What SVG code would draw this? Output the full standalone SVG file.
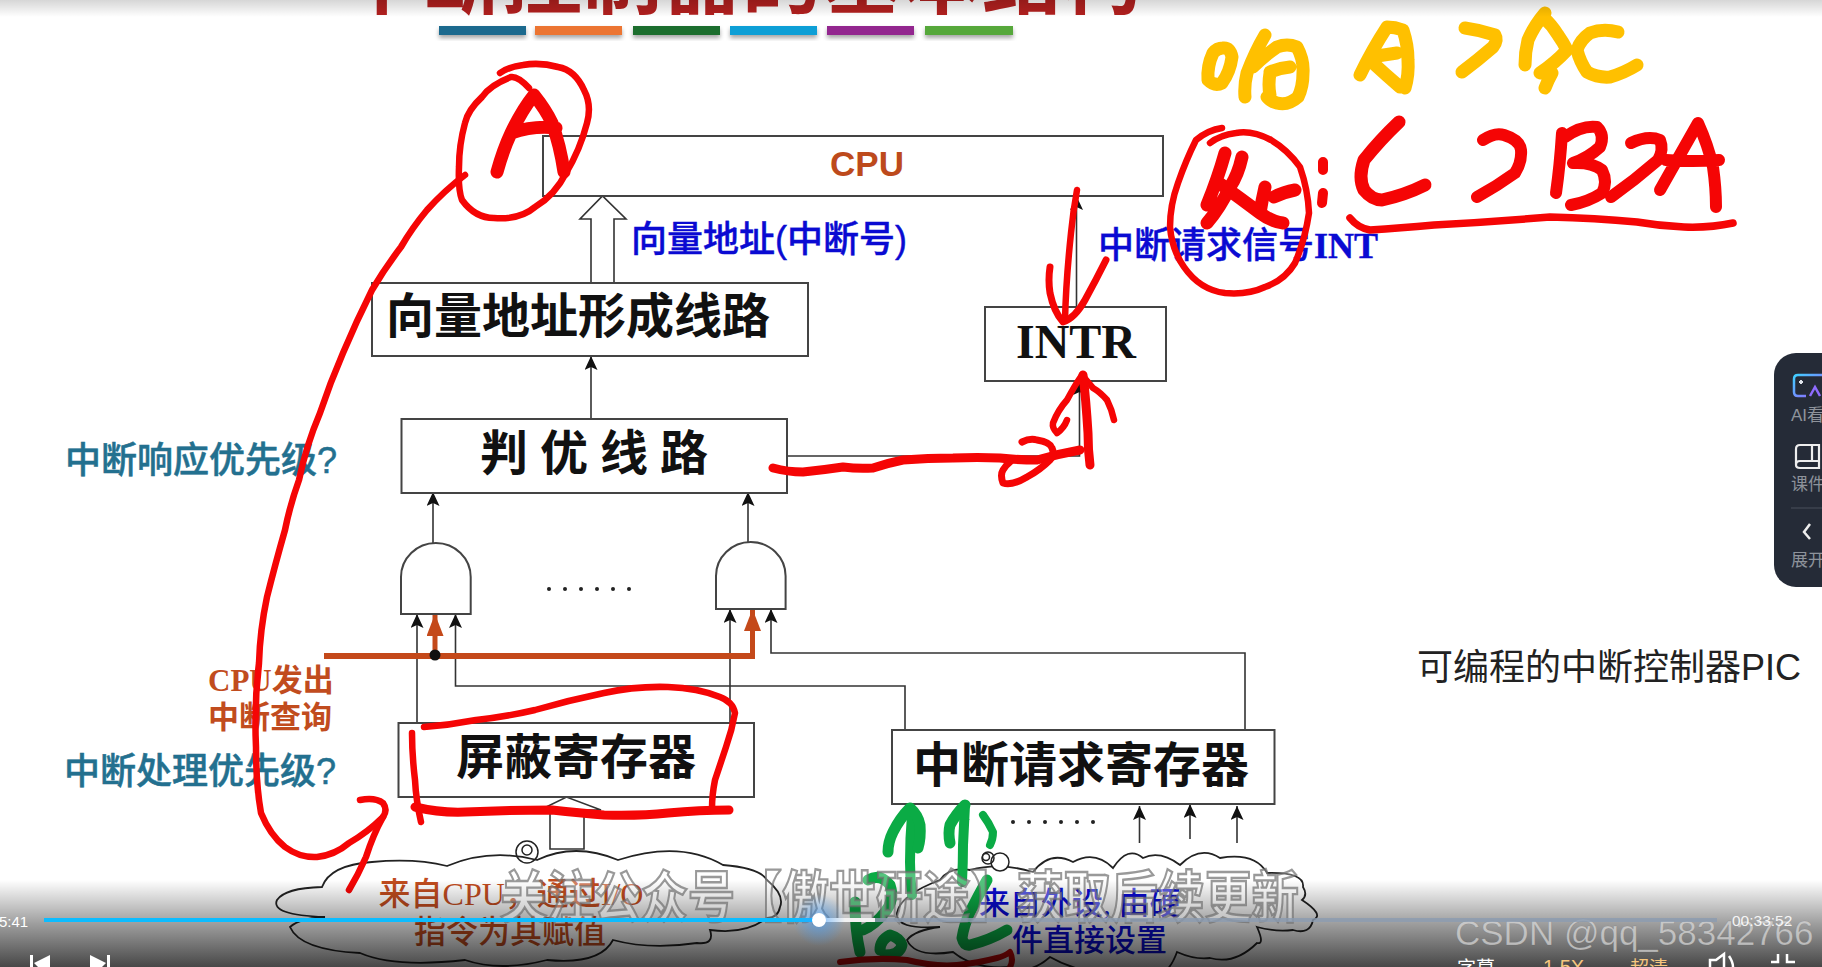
<svg xmlns="http://www.w3.org/2000/svg" width="1822" height="967" viewBox="0 0 1822 967">
<style>
text{font-family:"Liberation Sans","Noto Sans CJK SC",sans-serif}
.box{fill:#fff;stroke:#444;stroke-width:2}
.big{font-size:48px;font-weight:700;fill:#111}
.teal{font-size:36px;font-weight:500;fill:#23708f;stroke:#23708f;stroke-width:.5}
.blue{font-size:36px;font-weight:500;fill:#0a0ad2;stroke:#0a0ad2;stroke-width:.4}
.rust{font-family:"Liberation Serif","Noto Sans CJK SC",serif;font-size:31px;font-weight:700;fill:#c14c1e}
.cl{font-family:"Liberation Serif","Noto Sans CJK SC",serif;font-size:32px;font-weight:500}
.ln{fill:none;stroke:#333;stroke-width:1.6}
.or{fill:none;stroke:#c4491a}
.cloud{fill:#fff;stroke:#222;stroke-width:1.8}
.ink{fill:none;stroke:#f50505;stroke-linecap:round;stroke-linejoin:round;stroke-width:6.5}
.ylw{fill:none;stroke:#ffc000;stroke-linecap:round;stroke-linejoin:round;stroke-width:13}
.grn{fill:none;stroke:#0bab45;stroke-linecap:round;stroke-linejoin:round;stroke-width:11}
.ui{fill:#8e939b;font-size:17px}
.wm{font-size:47px;font-weight:700;fill:rgba(255,255,255,.3);stroke:rgba(110,110,110,.7);stroke-width:2}
</style>
<defs>
<marker id="a" markerUnits="userSpaceOnUse" markerWidth="14" markerHeight="16" refX="14" refY="6.500" orient="auto"><path d="M0 0L14 6.500L0 13L3 6.500Z" fill="#111"/></marker>
<marker id="o" markerUnits="userSpaceOnUse" markerWidth="22" markerHeight="18" refX="22" refY="8.500" orient="auto"><path d="M0 0L22 8.500L0 17Z" fill="#c4491a"/></marker>
<linearGradient id="bot" x1="0" y1="0" x2="0" y2="1"><stop offset="0" stop-color="#000" stop-opacity="0"/><stop offset=".5" stop-color="#000" stop-opacity=".38"/><stop offset="1" stop-color="#000" stop-opacity=".72"/></linearGradient>
<linearGradient id="top" x1="0" y1="0" x2="0" y2="1"><stop offset="0" stop-color="#000" stop-opacity=".16"/><stop offset="1" stop-color="#000" stop-opacity="0"/></linearGradient>
<radialGradient id="glow"><stop offset="0" stop-color="#3a9cff" stop-opacity=".6"/><stop offset="1" stop-color="#3a9cff" stop-opacity="0"/></radialGradient>
<linearGradient id="ai" x1="0" y1="0" x2="1" y2="1"><stop offset="0" stop-color="#3fd0ff"/><stop offset="1" stop-color="#9a5cff"/></linearGradient>
<filter id="sh" x="-5%" y="-20%" width="110%" height="180%"><feDropShadow dx="0" dy="3" stdDeviation="2" flood-opacity=".35"/></filter>
</defs>
<rect width="1822" height="967" fill="#fff"/>
<g id="title">
<text x="742" y="7" text-anchor="middle" font-size="80" font-weight="700" fill="#b2201f">中断控制器的基本结构</text>
<g filter="url(#sh)">
<rect x="439" y="26" width="87" height="9" fill="#1d6a8e"/>
<rect x="535" y="26" width="87" height="9" fill="#ec7533"/>
<rect x="633" y="26" width="87" height="9" fill="#1f6e2e"/>
<rect x="730" y="26" width="87" height="9" fill="#0f9fd6"/>
<rect x="827" y="26" width="87" height="9" fill="#93278f"/>
<rect x="925" y="26" width="88" height="9" fill="#56a83a"/>
</g>
</g>
<g id="connectors">
<path class="ln" style="fill:#fff" d="M591 283V219H580L602.500 196L626 219H614V283"/>
<path class="ln" d="M591 419V356" marker-end="url(#a)"/>
<path class="ln" d="M787 456H1079.500V381" marker-end="url(#a)"/>
<path class="ln" d="M1076.500 307V196" marker-end="url(#a)"/>
<path class="ln" d="M433 543V492" marker-end="url(#a)"/>
<path class="ln" d="M748 542V492" marker-end="url(#a)"/>
<path class="ln" d="M417 723V614" marker-end="url(#a)"/>
<path class="ln" d="M905 730V686H455.500V614" marker-end="url(#a)"/>
<path class="ln" d="M730 723V609" marker-end="url(#a)"/>
<path class="ln" d="M1245 730V653H771V609" marker-end="url(#a)"/>
<path class="or" stroke-width="6" d="M324 656H755"/>
<path class="or" stroke-width="5" d="M435 656V614" marker-end="url(#o)"/>
<path class="or" stroke-width="5" d="M752.500 656V609" marker-end="url(#o)"/>
<circle cx="435" cy="655" r="5.500" fill="#111"/>
<path class="ln" style="fill:#fff" d="M550 849V810H540L566.500 797L601 810H584V849Z"/>
<path class="ln" d="M914 845V806" marker-end="url(#a)"/>
<path class="ln" d="M963 845V806" marker-end="url(#a)"/>
<path class="ln" d="M1139.500 843V806" marker-end="url(#a)"/>
<path class="ln" d="M1190 839V804" marker-end="url(#a)"/>
<path class="ln" d="M1237 843V806" marker-end="url(#a)"/>
</g>
<g id="cpu"><rect class="box" x="543" y="136" width="620" height="60"/><text x="867" y="176" text-anchor="middle" font-size="35" font-weight="700" fill="#bd4a1c">CPU</text></g>
<text x="631" y="252" class="blue">向量地址(中断号)</text>
<g id="vector"><rect class="box" x="372" y="283" width="436" height="73"/><text x="578" y="333" text-anchor="middle" class="big">向量地址形成线路</text></g>
<g id="intr"><rect class="box" x="985" y="307" width="181" height="74"/><text x="1076" y="358" text-anchor="middle" style="font-family:'Liberation Serif',serif" font-size="48" font-weight="700" fill="#111">INTR</text></g>
<text x="1098" y="258" class="blue">中断请求信号<tspan style="font-family:'Liberation Serif',serif;font-weight:700">INT</tspan></text>
<g id="prio"><rect class="box" x="401.500" y="419" width="385.500" height="74"/><text y="470" class="big"><tspan x="480">判</tspan><tspan x="540">优</tspan><tspan x="600">线</tspan><tspan x="660">路</tspan></text></g>
<text x="65" y="473" class="teal">中断响应优先级?</text>
<g id="gate1"><path class="box" d="M401 614V577A34.800 34 0 0 1 470.700 577V614Z"/></g>
<g id="gate2"><path class="box" d="M716 609V576A34.800 34 0 0 1 785.600 576V609Z"/></g>
<g id="dots1" fill="#222"><circle cx="549" cy="589" r="2"/><circle cx="565" cy="589" r="2"/><circle cx="581" cy="589" r="2"/><circle cx="597" cy="589" r="2"/><circle cx="613" cy="589" r="2"/><circle cx="629" cy="589" r="2"/></g>
<text x="208" y="691" class="rust">CPU发出</text>
<text x="208" y="728" class="rust">中断查询</text>
<text x="64" y="784" class="teal">中断处理优先级?</text>
<g id="mask"><rect class="box" x="398.500" y="723" width="355.500" height="74"/><text x="576" y="774" text-anchor="middle" class="big">屏蔽寄存器</text></g>
<g id="req"><rect class="box" x="892" y="730" width="382.500" height="74"/><text x="1081" y="782" text-anchor="middle" class="big">中断请求寄存器</text></g>
<g id="dots2" fill="#222"><circle cx="1013" cy="822" r="2"/><circle cx="1029" cy="822" r="2"/><circle cx="1045" cy="822" r="2"/><circle cx="1061" cy="822" r="2"/><circle cx="1077" cy="822" r="2"/><circle cx="1093" cy="822" r="2"/></g>
<text x="1417" y="680" font-size="36" fill="#222">可编程的中断控制器PIC</text>
<g id="cloud1">
<path class="cloud" d="M322 887Q330 865 372 862Q415 858 447 866Q490 848 537 860Q575 842 618 860Q680 840 723 865Q760 868 767 880Q785 895 780 907Q778 918 767 918Q745 935 710 930Q715 945 697 943Q650 950 613 940Q600 965 547 960Q500 972 465 960Q395 968 360 953Q300 950 290 927Q300 918 325 917Q270 915 277 900Q285 888 322 887Z"/>
<circle cx="527" cy="852" r="11" fill="none" stroke="#222" stroke-width="1.500"/><circle cx="527" cy="850" r="5" fill="none" stroke="#222" stroke-width="1.500"/>
<text x="511" y="905" text-anchor="middle" class="cl" fill="#c14c1e">来自CPU，通过I/O</text>
<text x="510" y="943" text-anchor="middle" class="cl" fill="#c14c1e">指令为其赋值</text>
</g>
<g id="cloud2">
<path class="cloud" d="M940 880Q950 866 970 870Q1000 862 1033 872Q1050 850 1073 862Q1095 850 1113 868Q1128 845 1143 858Q1160 850 1180 865Q1200 845 1220 858Q1255 852 1267 873Q1305 872 1303 887Q1308 895 1302 900Q1325 915 1313 920Q1310 935 1293 930Q1275 932 1257 927Q1265 945 1257 943Q1235 965 1210 958Q1195 960 1177 952Q1165 985 1143 970Q1090 980 1050 957Q1030 975 1010 967Q975 970 953 952Q915 958 907 940Q915 930 940 927Q895 930 897 913Q900 895 940 880Z"/>
<circle cx="1000" cy="862" r="9" fill="#fff" stroke="#222" stroke-width="1.500"/><circle cx="988" cy="858" r="6" fill="none" stroke="#222" stroke-width="1.500"/><circle cx="986" cy="857" r="3.500" fill="none" stroke="#222" stroke-width="1.500"/>
<text x="979" y="914" class="cl" fill="#0a0ad2" style="font-size:31px">来自外设, 由硬</text>
<text x="1012" y="951" class="cl" fill="#0a0ad2" style="font-size:31px">件直接设置</text>
</g>
<g id="ink-red">
<path class="ink" d="M529 88Q518 76 511 77Q490 85 482 97Q468 110 465 123Q459 145 459 167Q458 190 462 200Q475 218 494 218Q520 220 535 207Q555 195 566 173Q580 150 587 123Q592 105 584 90Q575 70 558 67Q540 62 523 65Q508 67 500 73"/>
<path class="ink" style="stroke-width:13" d="M497 172Q503 150 511 133Q522 110 534 95Q546 110 552 123Q560 145 564 172M511 133Q535 125 556 128"/>
<path class="ink" d="M465 175Q445 190 427 210Q412 228 401 247Q385 268 372 290Q356 322 343 353Q330 383 320 413Q306 446 299 480Q290 505 285 530Q275 565 267 597Q260 630 259 663Q254 705 256 747Q256 785 261 813Q270 835 285 847Q300 858 317 857Q335 855 349 843Q368 832 383 817"/>
<path class="ink" d="M360 800Q375 797 383 803Q388 810 383 817Q373 835 366 857Q358 875 349 890"/>
<path class="ink" d="M412 733Q412 755 415 780Q416 800 421 822"/>
<path class="ink" d="M424 727Q450 725 476 720Q505 717 535 710Q570 700 604 693Q635 686 668 687Q698 688 720 697Q733 702 735 713Q732 730 726 747Q720 765 715 780Q712 795 712 808"/>
<path class="ink" style="stroke-width:9" d="M415 807Q440 813 465 812Q510 810 552 810Q580 813 604 815Q640 816 668 813Q700 810 729 810"/>
<path class="ink" d="M1077 190Q1073 212 1071 233Q1066 280 1065 320"/>
<path class="ink" style="stroke-width:7" d="M1050 267Q1048 280 1050 293Q1054 312 1063 322Q1075 318 1085 300Q1096 280 1106 260"/>
<path class="ink" style="stroke-width:9" d="M773 468Q788 472 803 472Q823 470 843 467Q858 469 873 468Q888 463 903 460Q928 458 953 458Q978 457 1000 458Q1018 460 1037 460Q1058 454 1080 450"/>
<path class="ink" style="stroke-width:7" d="M1022 442Q1030 438 1037 440Q1050 442 1052 448Q1055 455 1050 460Q1040 470 1027 477Q1012 486 1003 483Q1000 475 1003 470Q1006 465 1010 462"/>
<path class="ink" style="stroke-width:9" d="M1090 465Q1088 450 1088 433Q1086 400 1083 375"/>
<path class="ink" d="M1057 433Q1052 428 1053 423Q1058 410 1067 400Q1075 385 1082 375Q1088 382 1093 388Q1100 392 1107 400Q1112 410 1114 420M1057 433Q1064 428 1067 420"/>
<path class="ink" d="M1222 128Q1208 130 1196 140Q1186 160 1178 183Q1170 205 1170 227Q1172 250 1184 267Q1200 290 1225 293Q1248 295 1265 287Q1285 280 1295 263Q1305 240 1309 213Q1308 190 1300 167Q1288 150 1271 140Q1252 130 1236 133Q1220 135 1210 143"/>
<path class="ink" style="stroke-width:13" d="M1225 153Q1218 178 1207 205M1242 157Q1238 175 1230 187Q1220 208 1207 223M1219 183Q1240 198 1260 213Q1272 222 1283 223M1265 187Q1262 200 1260 213M1295 190Q1284 192 1274 197"/>
<path class="ink" style="stroke-width:10" d="M1323 162V170M1323 193L1322 203"/>
<path class="ink" style="stroke-width:13" d="M1399 122Q1380 140 1364 160Q1358 178 1364 190Q1372 200 1382 200Q1405 195 1425 185"/>
<path class="ink" style="stroke-width:12" d="M1483 140Q1495 132 1504 135Q1520 140 1521 150Q1522 162 1515 173Q1497 186 1477 197"/>
<path class="ink" style="stroke-width:12" d="M1562 133Q1560 165 1556 193M1565 137Q1582 125 1597 127Q1605 135 1600 147Q1588 158 1573 163Q1592 162 1602 170Q1608 182 1602 193Q1588 202 1571 205"/>
<path class="ink" style="stroke-width:12" d="M1631 143Q1648 135 1660 140Q1664 150 1658 160Q1635 180 1611 197"/>
<path class="ink" style="stroke-width:12" d="M1660 190Q1680 155 1698 123Q1708 145 1713 167Q1716 188 1716 207M1666 160Q1692 162 1719 160"/>
<path class="ink" style="stroke-width:7.500" d="M1350 218Q1358 228 1370 230Q1400 228 1434 225Q1490 222 1550 217Q1595 218 1637 222Q1660 226 1684 227Q1710 228 1733 223"/>
</g>
<g id="ink-yellow">
<path class="ylw" d="M1213 53Q1207 66 1208 80Q1215 87 1222 83Q1230 72 1232 57Q1230 47 1223 48Q1217 48 1213 53Z"/>
<path class="ylw" d="M1265 35Q1255 52 1247 73Q1244 85 1245 97M1253 67Q1265 55 1277 47Q1287 43 1297 47Q1304 60 1303 73Q1303 87 1298 97Q1288 106 1277 103Q1271 102 1267 97M1270 73Q1268 85 1270 95M1270 72Q1280 68 1290 67"/>
<path class="ylw" d="M1360 75Q1372 50 1387 27Q1395 27 1403 30Q1408 45 1408 60Q1409 75 1405 88M1370 57Q1384 55 1397 53M1373 63Q1386 75 1400 87"/>
<path class="ylw" d="M1465 28Q1480 30 1495 35Q1498 40 1493 47Q1478 60 1462 72"/>
<path class="ylw" d="M1545 13Q1534 26 1528 40Q1525 52 1525 65M1543 17Q1552 25 1558 35Q1563 42 1567 50Q1555 63 1540 73M1545 88Q1548 80 1552 73"/>
<path class="ylw" d="M1618 32Q1603 28 1590 33Q1580 40 1577 50Q1580 62 1587 72Q1598 78 1610 77Q1624 73 1637 65"/>
</g>
<g id="ink-green">
<path class="grn" style="stroke-width:10" d="M912 815Q910 838 910 862Q910 878 912 895"/>
<path class="grn" d="M888 852Q888 842 893 832Q900 818 910 808Q918 815 920 825Q921 838 918 848"/>
<path class="grn" style="stroke-width:10" d="M965 805Q964 825 963 845Q963 862 962 882"/>
<path class="grn" d="M950 843Q948 833 950 825Q956 814 965 805"/>
<path class="grn" style="stroke-width:8" d="M983 815Q989 823 993 832Q993 839 990 845"/>
<path class="grn" d="M868 880Q880 873 890 885Q895 900 885 912Q875 925 863 930"/>
<path class="grn" d="M855 902Q855 930 860 952"/>
<path class="grn" d="M880 950Q880 940 890 935Q900 938 902 945Q900 955 885 955"/>
<path class="grn" d="M987 880Q978 896 970 912Q964 925 962 938Q964 946 970 945Q990 940 1007 930"/>
<path style="fill:none;stroke:#d00808;stroke-width:6;stroke-linecap:round;stroke-linejoin:round" d="M840 962Q875 957 907 960Q935 967 957 965Q978 963 997 958Q1005 956 1010 952Q1014 960 1010 967"/>
</g>
<rect id="shade-bottom" x="0" y="880" width="1822" height="87" fill="url(#bot)"/>
<rect id="shade-top" x="0" y="0" width="1822" height="17" fill="url(#top)"/>
<g id="watermark">
<text class="wm" transform="translate(500 917) scale(1 1.18)">关注公众号【傲世研途】获取后续更新</text>
<text x="1455" y="945" font-size="35" fill="#d8d8d8" fill-opacity=".72" stroke="#444" stroke-opacity=".25" stroke-width=".6">CSDN @qq_58342766</text>
</g>
<g id="player">
<rect x="819" y="918" width="898" height="4" fill="#8b9bb0" fill-opacity=".8"/>
<rect x="819" y="918" width="56" height="4" fill="#f2f2f2"/>
<rect x="44" y="918" width="775" height="4" fill="#0cbcff"/>
<circle cx="819" cy="920" r="26" fill="url(#glow)"/>
<circle cx="819" cy="920" r="7" fill="#fff"/>
<text x="-1" y="927" font-size="15" fill="#fff">5:41</text>
<text x="1732" y="926" font-size="15.500" fill="#fff" fill-opacity=".9">00:33:52</text>
<path fill="#fff" d="M30 955H33V967H30ZM50 955V967H38L34 963ZM90 955L106 963L102 967H90ZM107 955H110V967H107Z"/>
<text x="1457" y="975" font-size="19" fill="#fff">字幕</text>
<text x="1543" y="974" font-size="20" fill="#f6c77e">1.5X</text>
<text x="1630" y="975" font-size="19" fill="#f6c77e">超清</text>
<path fill="none" stroke="#fff" stroke-width="2.500" d="M1710 967V960H1716L1724 954V967M1729 956Q1733 962 1733 967"/>
<path fill="none" stroke="#fff" stroke-width="2.500" d="M1771 962H1778V954M1787 954V962H1795"/>
</g>
<g id="sidebar">
<rect x="1774" y="353" width="80" height="234" rx="22" fill="#252b37"/>
<path fill="none" stroke="url(#ai)" stroke-width="2.500" d="M1822 375H1798Q1794 375 1794 379V392Q1794 396 1798 396H1806"/>
<path fill="none" stroke="#8f6cff" stroke-width="2.500" d="M1810 396L1815 387L1820 396"/>
<path fill="none" stroke="#dfe3ea" stroke-width="2" d="M1799 382H1803M1801 380V384"/>
<text x="1791" y="421" class="ui">AI看</text>
<path fill="none" stroke="#eee" stroke-width="2.200" d="M1796 465V449Q1796 445 1800 445H1819V468H1800Q1796 468 1796 465Q1796 461 1800 461H1819M1812 445V461"/>
<text x="1791" y="490" class="ui">课件</text>
<path d="M1791 508H1822" stroke="#4a505c" stroke-width="1"/>
<path fill="none" stroke="#eee" stroke-width="2.500" d="M1810 524L1804 532L1810 539"/>
<text x="1791" y="566" class="ui">展开</text>
</g>
</svg>
